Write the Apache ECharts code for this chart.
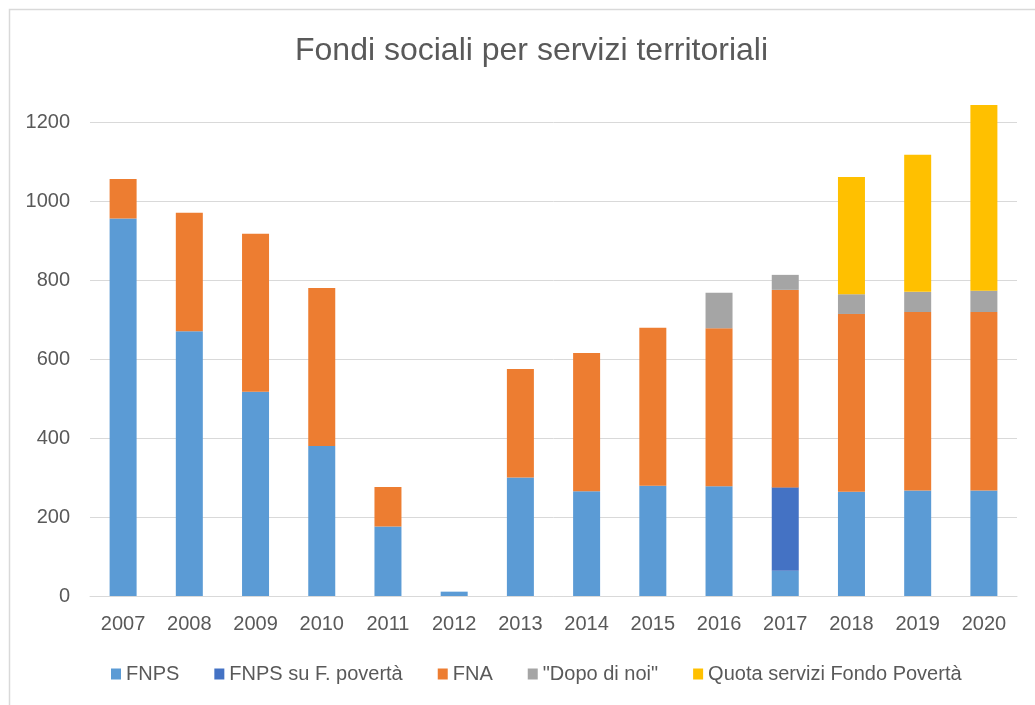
<!DOCTYPE html>
<html>
<head>
<meta charset="utf-8">
<script src="https://cdn.jsdelivr.net/npm/echarts@6/dist/echarts.min.js"></script>
<style>
  html, body { margin: 0; padding: 0; background: #fff; }
  #chart { width: 1035px; height: 705px; }
</style>
</head>
<body>
<div id="chart"></div>
<script>
var years = ['2007', '2008', '2009', '2010', '2011', '2012', '2013', '2014', '2015', '2016', '2017', '2018', '2019', '2020'];

var fnps      = [956, 670, 517, 380, 176, 11, 300, 265, 279, 278, 64, 264, 267, 267];
var fnpsPov   = [0, 0, 0, 0, 0, 0, 0, 0, 0, 0, 211, 0, 0, 0];
var fna       = [100, 300, 400, 400, 100, 0, 275, 350, 400, 400, 500, 450, 452, 452];
var dopoDiNoi = [0, 0, 0, 0, 0, 0, 0, 0, 0, 90, 38, 50, 51, 54];
var quotaPov  = [0, 0, 0, 0, 0, 0, 0, 0, 0, 0, 0, 297, 347, 470];

var names  = ['FNPS', 'FNPS su F. povertà', 'FNA', '"Dopo di noi"', 'Quota servizi Fondo Povertà'];
var colors = ['#5b9bd5', '#4472c4', '#ed7d31', '#a5a5a5', '#ffc000'];
var values = [fnps, fnpsPov, fna, dopoDiNoi, quotaPov];

var font = "'Liberation Sans', sans-serif";

var chart = echarts.init(document.getElementById('chart'));

var series = [];
for (var i = 0; i < names.length; i++) {
    series.push({
        name: names[i],
        type: 'bar',
        stack: 'tot',
        barWidth: 27,
        clip: false,
        itemStyle: { color: colors[i] },
        data: values[i]
    });
}

var option = {
    animation: false,
    color: colors,
    title: {
        text: 'Fondi sociali per servizi territoriali',
        left: 290,
        top: 30,
        textStyle: { color: '#595959', fontSize: 32, fontWeight: 'normal', fontFamily: font }
    },
    graphic: [{
        type: 'rect',
        shape: { x: 9.5, y: 9.5, width: 1040, height: 720 },
        style: { fill: 'none', stroke: '#d9d9d9', lineWidth: 1.5 }
    }],
    legend: {
        bottom: 16,
        left: 106,
        itemWidth: 10,
        itemHeight: 11,
        itemGap: 35,
        icon: 'rect',
        textStyle: { color: '#595959', fontSize: 20, fontFamily: font },
        data: names
    },
    grid: { left: 90, right: 18, top: 122, bottom: 109 },
    xAxis: {
        type: 'category',
        data: years,
        axisLine: { lineStyle: { color: '#d9d9d9' } },
        axisTick: { show: false },
        axisLabel: { color: '#595959', fontSize: 20, fontFamily: font, margin: 18 }
    },
    yAxis: {
        type: 'value',
        min: 0,
        max: 1200,
        interval: 200,
        axisLine: { show: false },
        axisTick: { show: false },
        splitLine: { lineStyle: { color: '#d9d9d9' } },
        axisLabel: {
            color: '#595959', fontSize: 20, fontFamily: font, margin: 20,
            formatter: function (v) { return String(v); }
        }
    },
    series: series
};

chart.setOption(option);
</script>
</body>
</html>
